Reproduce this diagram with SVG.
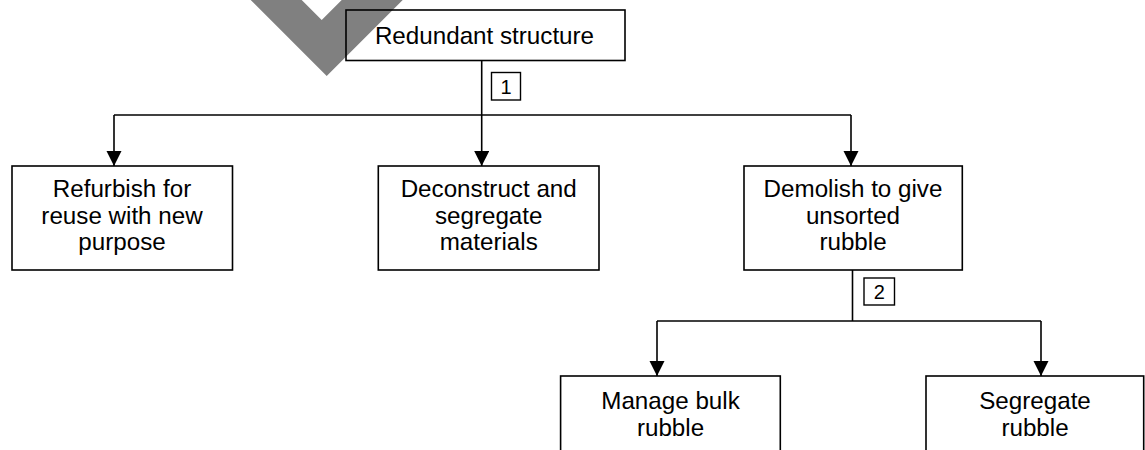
<svg xmlns="http://www.w3.org/2000/svg" width="1145" height="450" viewBox="0 0 1145 450">
  <style>
    .box { fill: none; stroke: #000; stroke-width: 1.6; }
    .lbl { fill: #fff; stroke: #000; stroke-width: 1.4; }
    .t { font-family: "Liberation Sans", Arial, sans-serif; font-size: 24.2px; fill: #000; text-anchor: middle; }
    .n { font-family: "Liberation Sans", Arial, sans-serif; font-size: 20px; fill: #000; text-anchor: middle; }
    .c { fill: none; stroke: #000; stroke-width: 1.6; }
  </style>
  <defs>
    <marker id="arr" markerUnits="userSpaceOnUse" markerWidth="16" markerHeight="16" refX="15" refY="7.5" orient="auto">
      <path d="M0,0 L15,7.5 L0,15 Z" fill="#000"/>
    </marker>
  </defs>
  <rect width="1145" height="450" fill="#fff"/>
  <polygon id="watermark" points="250.7,0 326.7,76 402.7,0 341.7,0 321.7,20 301.7,0" fill="#808080"/>
  <g id="connectors">
    <line class="c" x1="481.7" y1="61" x2="481.7" y2="166" marker-end="url(#arr)"/>
    <line class="c" x1="114" y1="115" x2="851" y2="115"/>
    <line class="c" x1="114" y1="115" x2="114" y2="166" marker-end="url(#arr)"/>
    <line class="c" x1="851" y1="115" x2="851" y2="166" marker-end="url(#arr)"/>
    <line class="c" x1="852.5" y1="270" x2="852.5" y2="321"/>
    <line class="c" x1="657" y1="321" x2="1041" y2="321"/>
    <line class="c" x1="657" y1="321" x2="657" y2="376" marker-end="url(#arr)"/>
    <line class="c" x1="1041" y1="321" x2="1041" y2="376" marker-end="url(#arr)"/>
    <g id="label1">
      <rect class="lbl" x="491.5" y="72.5" width="29" height="27.5"/>
      <text class="n" x="506" y="93.5">1</text>
    </g>
    <g id="label2">
      <rect class="lbl" x="864" y="278" width="30.5" height="27"/>
      <text class="n" x="879.2" y="298.5">2</text>
    </g>
  </g>
  <g id="redundant">
    <rect class="box" x="346" y="10" width="279" height="50.5"/>
    <text class="t" x="484.5" y="43.5">Redundant structure</text>
  </g>
  <g id="refurbish">
    <rect class="box" x="12" y="166" width="220.5" height="104"/>
    <text class="t" x="122" y="197">Refurbish for</text>
    <text class="t" x="122" y="223.5">reuse with new</text>
    <text class="t" x="122" y="250.2">purpose</text>
  </g>
  <g id="deconstruct">
    <rect class="box" x="378.3" y="166" width="220.7" height="104"/>
    <text class="t" x="488.7" y="197">Deconstruct and</text>
    <text class="t" x="488.7" y="223.5">segregate</text>
    <text class="t" x="488.7" y="250.2">materials</text>
  </g>
  <g id="demolish">
    <rect class="box" x="744" y="166" width="218.3" height="104"/>
    <text class="t" x="853" y="197">Demolish to give</text>
    <text class="t" x="853" y="223.5">unsorted</text>
    <text class="t" x="853" y="250.2">rubble</text>
  </g>
  <g id="manage">
    <rect class="box" x="560.6" y="376" width="219.7" height="104"/>
    <text class="t" x="670.5" y="409">Manage bulk</text>
    <text class="t" x="670.5" y="435.5">rubble</text>
  </g>
  <g id="segregate">
    <rect class="box" x="926" y="376" width="217.7" height="104"/>
    <text class="t" x="1035" y="409">Segregate</text>
    <text class="t" x="1035" y="435.5">rubble</text>
  </g>
</svg>
